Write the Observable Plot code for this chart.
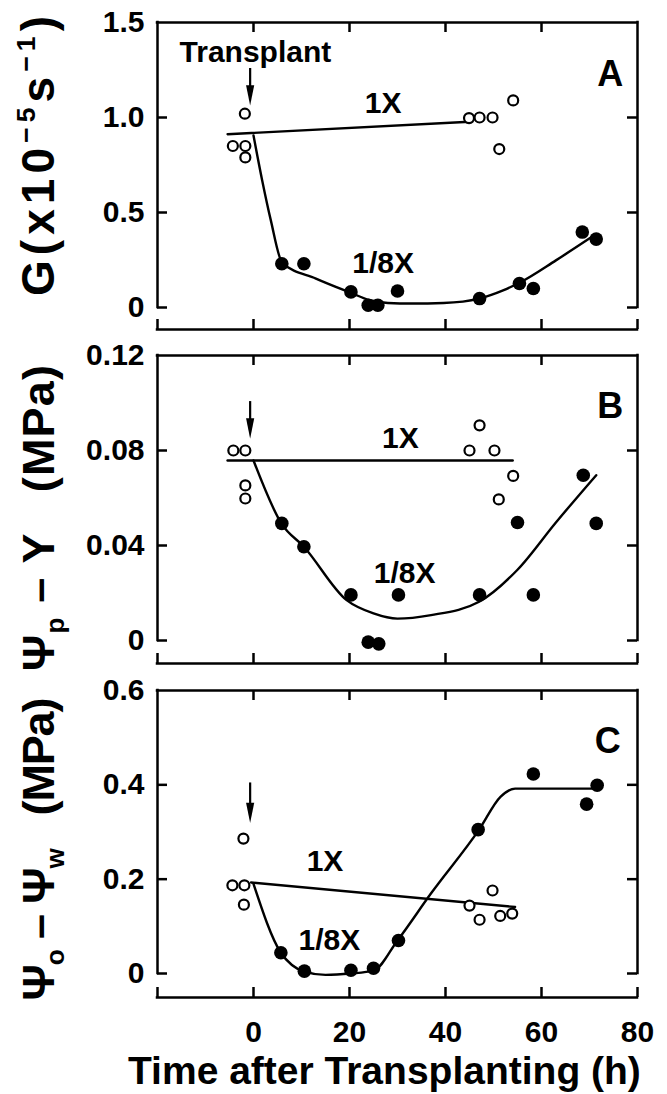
<!DOCTYPE html>
<html><head><meta charset="utf-8">
<script src="https://cdn.jsdelivr.net/npm/d3@7"></script>
<script src="https://cdn.jsdelivr.net/npm/@observablehq/plot@0.6"></script>
<style>
body{margin:0;background:#fff;}
#wrap{position:relative;width:667px;height:1094px;overflow:hidden;}
#xtitle{position:absolute;top:1050px;left:128px;width:539px;height:42px;white-space:nowrap;font-family:"Liberation Sans",Arial,sans-serif;font-weight:bold;font-size:39px;line-height:42px;color:#000;}
</style></head><body>
<div id="wrap"></div>
<script>
// ---------- data ----------
const xTicks = [0, 20, 40, 60, 80];
const xTickLabels = ["0", "20", "40", "60", "80"];

// Panel A : G (x10^-5 s^-1)
const aTicks = [0, 0.5, 1.0, 1.5];
const aTickLabels = ["0", "0.5", "1.0", "1.5"];
const aOpenX = [-1.8, -4.3, -1.7, -1.7, 44.9, 47.1, 49.8, 54.1, 51.2];
const aOpenY = [1.02, 0.85, 0.85, 0.79, 0.997, 1.0, 1.0, 1.09, 0.834];
const aFilledX = [5.9, 10.5, 20.3, 23.9, 25.9, 30.0, 47.1, 55.4, 58.3, 68.5, 71.4];
const aFilledY = [0.23, 0.23, 0.082, 0.012, 0.012, 0.087, 0.047, 0.126, 0.10, 0.397, 0.36];
const aLine1X_X = [-5.4, 45];
const aLine1X_Y = [0.912, 0.978];
const aCurveX = [0, 1.8, 3.6, 6, 13, 20, 24.3, 28, 33, 39.6, 47, 52, 55.4, 63, 71];
const aCurveY = [0.905, 0.67, 0.46, 0.235, 0.152, 0.08, 0.038, 0.024, 0.021, 0.024, 0.047, 0.09, 0.13, 0.248, 0.38];

// Panel B : Psi_p - Y (MPa)
const bTicks = [0, 0.04, 0.08, 0.12];
const bTickLabels = ["0", "0.04", "0.08", "0.12"];
const bOpenX = [-4.2, -1.7, -1.7, -1.7, 45, 47.1, 50.2, 54.1, 51.1];
const bOpenY = [0.080, 0.080, 0.0653, 0.0598, 0.080, 0.0906, 0.080, 0.0693, 0.0594];
const bFilledX = [5.9, 10.5, 20.3, 23.9, 26.1, 30.2, 47.1, 55.0, 58.3, 68.7, 71.4];
const bFilledY = [0.0493, 0.0395, 0.0192, -0.0007, -0.0014, 0.0192, 0.0192, 0.0497, 0.0192, 0.0696, 0.0493];
const bLine1X_X = [-5.4, 54];
const bLine1X_Y = [0.0758, 0.0758];
const bCurveX = [0, 5.9, 10.5, 19.4, 25, 30, 37, 47, 55, 63, 71.4];
const bCurveY = [0.0758, 0.049, 0.0395, 0.017, 0.0114, 0.0092, 0.0107, 0.0163, 0.0298, 0.0497, 0.0696];

// Panel C : Psi_o - Psi_w (MPa)
const cTicks = [0, 0.2, 0.4, 0.6];
const cTickLabels = ["0", "0.2", "0.4", "0.6"];
const cOpenX = [-2.1, -4.4, -1.9, -2.0, 45, 47.1, 49.8, 51.4, 53.9];
const cOpenY = [0.286, 0.187, 0.187, 0.146, 0.144, 0.114, 0.176, 0.122, 0.127];
const cFilledX = [5.7, 10.6, 20.3, 25, 30.2, 46.8, 58.3, 69.4, 71.6];
const cFilledY = [0.044, 0.005, 0.007, 0.011, 0.07, 0.305, 0.423, 0.359, 0.399];
const cLine1X_X = [-0.5, 54.5];
const cLine1X_Y = [0.193, 0.141];
const cCurveX = [0, 5.7, 8, 10.6, 15, 20.3, 25, 30, 37, 47, 51.5, 54.5, 71.6];
const cCurveY = [0.19, 0.044, 0.018, 0.004, -0.003, 0.0, 0.006, 0.07, 0.17, 0.305, 0.375, 0.392, 0.392];

// arrows (x, top, tip) and in-plot labels
const aArrow = [-0.7, 1.258, 1.063];
const bArrow = [-0.7, 0.1006, 0.085];
const cArrow = [-0.7, 0.404, 0.319];
const aLabels = [["Transplant", 0.4, 1.342], ["1X", 27, 1.075], ["1/8X", 27, 0.23]];
const bLabels = [["1X", 30.6, 0.0852], ["1/8X", 31.5, 0.0284]];
const cLabels = [["1X", 14.9, 0.238], ["1/8X", 15.8, 0.071]];
const panelLetters = [["A", 74.3, 1.227], ["B", 74.3, 0.0987], ["C", 73.8, 0.491]];
const xTitle = "Time after Transplanting (h)";

// ---------- drawing ----------
const FONT = "'Liberation Sans', Arial, Helvetica, sans-serif";
const W = 667, ML = 157, MR = 30;
const XMIN = -20, XMAX = 80;
const SW = 2.5;
const zip = (xs, ys) => xs.map((x, i) => ({x, y: ys[i]}));

const arrowHead = {
  draw(ctx, size) {
    const r = Math.sqrt(size / Math.PI);
    ctx.moveTo(0, 0);
    ctx.lineTo(-0.68 * r, -3.4 * r);
    ctx.lineTo(0.68 * r, -3.4 * r);
    ctx.closePath();
  }
};

function makePanel(c) {
  const innerH = c.height - c.mt - c.mb;
  const yTickLen = 10 * (c.ymax - c.yb) / innerH;
  const xTickLen = 10 * (XMAX - XMIN) / (W - ML - MR);
  const inner = c.ticks.filter(d => d < c.ymax);
  const tickRows = c.ticks.map((v, i) => ({v, t: c.tickLabels[i]}));
  const labelRows = c.labels.map(([t, x, y]) => ({t, x, y}));
  const [ax, atop, atip] = c.arrow;
  const marks = [
    // frame
    Plot.ruleY([c.ymax], {x1: XMIN, x2: XMAX, strokeWidth: SW, strokeLinecap: "square"}),
    Plot.ruleX([XMIN, XMAX], {y1: 0, y2: c.ymax, strokeWidth: SW, strokeLinecap: "square"}),
    Plot.ruleY([c.yb], {x1: XMIN, x2: XMAX, strokeWidth: SW, strokeLinecap: "square"}),
    Plot.ruleX([XMIN, ...xTicks], {x: d => d, y1: c.yb, y2: c.yb + yTickLen, strokeWidth: SW}),
    Plot.ruleX(xTicks.filter(d => d < XMAX), {x: d => d, y1: c.ymax, y2: c.ymax - yTickLen, strokeWidth: SW}),
    Plot.ruleY(inner, {y: d => d, x1: XMIN, x2: XMIN + xTickLen, strokeWidth: SW}),
    Plot.ruleY(inner, {y: d => d, x1: XMAX - xTickLen, x2: XMAX, strokeWidth: SW}),
    Plot.text(tickRows, {x: XMIN, y: "v", text: "t", dx: -13, textAnchor: "end", lineAnchor: "middle",
      fontSize: 30, fontWeight: "bold", fill: "black"}),
    // series
    Plot.line(zip(c.l1x, c.l1y), {x: "x", y: "y", strokeWidth: 2.4, stroke: "black"}),
    Plot.line(zip(c.cx, c.cy), {x: "x", y: "y", curve: "monotone-x", strokeWidth: 2.4, stroke: "black"}),
    Plot.dot(zip(c.ox, c.oy), {x: "x", y: "y", r: 5, stroke: "black", fill: "white", strokeWidth: 2.2}),
    Plot.dot(zip(c.fx, c.fy), {x: "x", y: "y", r: 6.8, fill: "black", stroke: "none"}),
    // arrow
    Plot.ruleX([ax], {x: d => d, y1: atop, y2: atip + (atop - atip) * 0.4, strokeWidth: 2.2}),
    Plot.dot([{x: ax, y: atip}], {x: "x", y: "y", r: 6, symbol: arrowHead, fill: "black", stroke: "none"}),
    // labels
    Plot.text(labelRows, {x: "x", y: "y", text: "t", textAnchor: "middle", lineAnchor: "middle",
      fontSize: 30, fontWeight: "bold", fill: "black"}),
    Plot.text([c.letter], {x: d => d[1], y: d => d[2], text: d => d[0], textAnchor: "middle", lineAnchor: "middle",
      fontSize: 36, fontWeight: "bold", fill: "black"})
  ];
  if (c.xlabels) {
    marks.push(Plot.text(xTicks.map((v, i) => ({v, t: xTickLabels[i]})), {x: "v", y: c.yb, text: "t",
      dy: 35, textAnchor: "middle", lineAnchor: "middle", fontSize: 30, fontWeight: "bold", fill: "black"}));
  }
  const svg = Plot.plot({
    width: W, height: c.height,
    marginLeft: ML, marginRight: MR, marginTop: c.mt, marginBottom: c.mb,
    x: {domain: [XMIN, XMAX], axis: null},
    y: {domain: [c.yb, c.ymax], axis: null},
    style: {fontFamily: FONT, background: "white", color: "black", overflow: "visible"},
    marks
  });
  // rotated y title with sub/superscripts
  const t = d3.select(svg).append("text")
    .attr("transform", `translate(${c.titleX},${c.titleY}) rotate(-90)`)
    .attr("text-anchor", "middle")
    .attr("font-family", FONT)
    .attr("font-weight", "bold")
    .attr("font-size", c.titleSize)
    .attr("fill", "black");
  if (c.titleLen) t.attr("textLength", c.titleLen).attr("lengthAdjust", "spacing");
  let shift = 0;
  for (const [txt, kind] of c.title) {
    const s = t.append("tspan").text(txt);
    const target = kind === "sup" ? -0.42 * c.titleSize : kind === "sub" ? 0.22 * c.titleSize : 0;
    if (kind) s.attr("font-size", c.titleSize * 0.58);
    if (target !== shift) { s.attr("dy", target - shift); shift = target; }
  }
  svg.style.position = "absolute";
  svg.style.left = "0px";
  svg.style.top = c.top + "px";
  return svg;
}

const wrap = document.getElementById("wrap");

wrap.appendChild(makePanel({
  top: 0, height: 340, mt: 22, mb: 11, ymax: 1.5, yb: -22 / 190,
  ticks: aTicks, tickLabels: aTickLabels,
  ox: aOpenX, oy: aOpenY, fx: aFilledX, fy: aFilledY,
  l1x: aLine1X_X, l1y: aLine1X_Y, cx: aCurveX, cy: aCurveY,
  arrow: aArrow, labels: aLabels, letter: panelLetters[0],
  title: [["G(x10", null], ["\u22125", "sup"], ["s", null], ["\u22121", "sup"], [")", null]],
  titleX: 54, titleY: 156, titleSize: 46, titleLen: 280
}));

wrap.appendChild(makePanel({
  top: 340, height: 335, mt: 15, mb: 12, ymax: 0.12, yb: -23 / 2375,
  ticks: bTicks, tickLabels: bTickLabels,
  ox: bOpenX, oy: bOpenY, fx: bFilledX, fy: bFilledY,
  l1x: bLine1X_X, l1y: bLine1X_Y, cx: bCurveX, cy: bCurveY,
  arrow: bArrow, labels: bLabels, letter: panelLetters[1],
  title: [["\u03A8", null], ["p", "sub"], [" \u2013 Y   (MPa)", null]],
  titleX: 54, titleY: 178, titleSize: 45, titleLen: 306
}));

wrap.appendChild(makePanel({
  top: 675, height: 375, mt: 15, mb: 53, ymax: 0.6, yb: -24 / 471.67,
  ticks: cTicks, tickLabels: cTickLabels,
  ox: cOpenX, oy: cOpenY, fx: cFilledX, fy: cFilledY,
  l1x: cLine1X_X, l1y: cLine1X_Y, cx: cCurveX, cy: cCurveY,
  arrow: cArrow, labels: cLabels, letter: panelLetters[2],
  title: [["\u03A8", null], ["o", "sub"], [" \u2013 \u03A8", null], ["w", "sub"], ["   (MPa)", null]],
  titleX: 54, titleY: 174, titleSize: 45, titleLen: 303,
  xlabels: true
}));

const xt = document.createElement("div");
xt.id = "xtitle";
xt.textContent = xTitle;
wrap.appendChild(xt);
</script>
</body></html>
